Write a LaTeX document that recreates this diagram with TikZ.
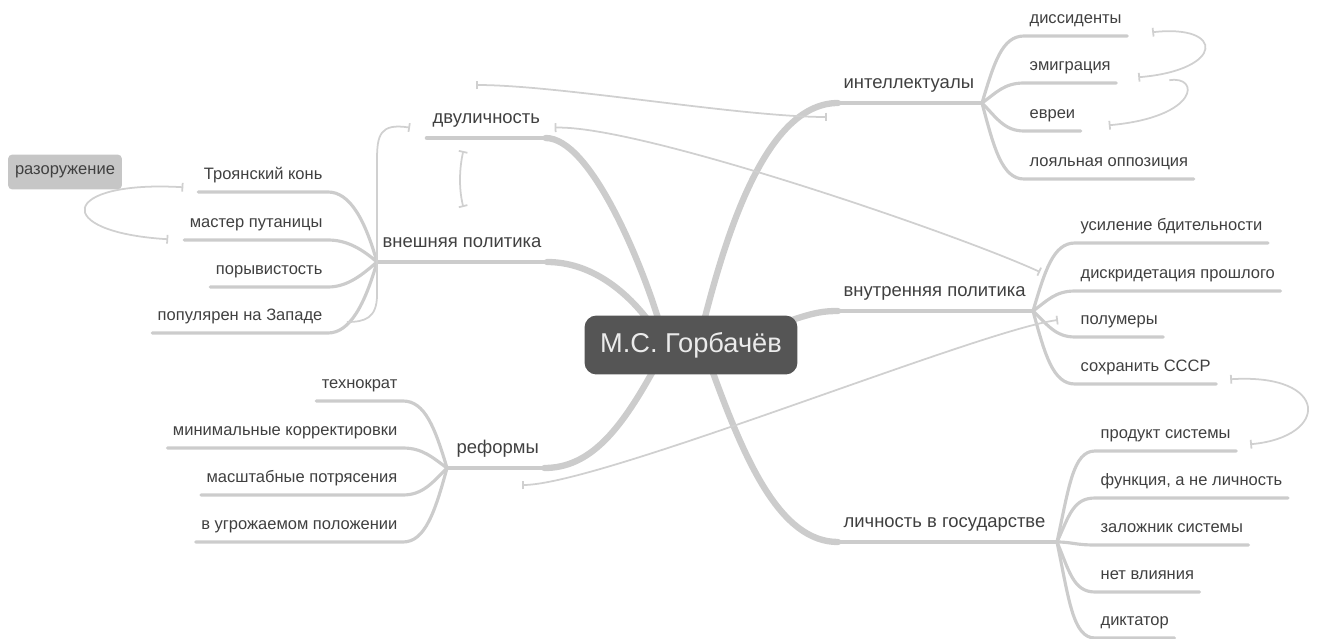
\documentclass[tikz,border=0pt]{standalone}
\usepackage{fontspec}
\setmainfont{Liberation Sans}
\usetikzlibrary{arrows.meta,calc,backgrounds}
\definecolor{brgray}{HTML}{CCCCCC}
\definecolor{relgray}{HTML}{D0D0D0}
\definecolor{txtgray}{HTML}{404040}
\definecolor{centrefill}{HTML}{555555}
\definecolor{floatfill}{HTML}{C6C6C6}
\tikzset{
  centre/.style={fill=centrefill, text=white!92!black, rounded corners=6.8pt,
    minimum width=4.26cm, minimum height=1.18cm, inner sep=0pt,
    font=\fontsize{15.5}{17}\selectfont},
  maintopic/.style={text=txtgray, inner xsep=3pt, inner ysep=0pt,
    text height=7pt, text depth=7.8pt, font=\fontsize{10.5}{12}\selectfont},
  subtopic/.style={text=txtgray, inner xsep=3pt, inner ysep=0pt,
    text height=7pt, text depth=7.1pt, font=\fontsize{9.4}{11}\selectfont},
  floattopic/.style={fill=floatfill, text=txtgray, rounded corners=2.5pt,
    minimum width=2.28cm, minimum height=0.7cm, inner sep=0pt,
    font=\fontsize{9.4}{11}\selectfont},
  trunk/.style={draw=brgray, line width=3.6pt, line cap=round},
  bough/.style={draw=brgray, line width=2.6pt, line cap=round},
  twig/.style={draw=brgray, line width=1.8pt, line cap=round},
  rel/.style={draw=relgray, line width=1pt},
  relboth/.style={rel, {Bar[width=5pt]}-{Bar[width=5pt]}},
  relend/.style={rel, -{Bar[width=5pt]}},
  relstart/.style={rel, {Bar[width=5pt]}-},
}
\begin{document}
\begin{tikzpicture}[x=0.02cm,y=-0.02cm]
\useasboundingbox (0,0) rectangle (1319,639);

\node[centre] (gorb) at (691,345) {М.С. Горбачёв};

\node[maintopic, anchor=south west] (dvul) at (427,138) {двуличность};
\node[maintopic, anchor=south west] (vnesh) at (377,262) {внешняя политика};
\node[maintopic, anchor=south west] (reform) at (451,468) {реформы};
\node[maintopic, anchor=south west] (intel) at (838,103) {интеллектуалы};
\node[maintopic, anchor=south west] (vnutr) at (838,311) {внутренняя политика};
\node[maintopic, anchor=south west] (lichn) at (838,542) {личность в государстве};

\coordinate (b-vnesh) at (377,262);
\coordinate (b-reform) at (447,468);
\coordinate (b-intel) at (982,103);
\coordinate (b-vnutr) at (1033,311);
\coordinate (b-lichn) at (1057,542);

\node[subtopic, anchor=south east] (troy) at (328,192) {Троянский конь};
\node[subtopic, anchor=south east] (master) at (328,240) {мастер путаницы};
\node[subtopic, anchor=south east] (poryv) at (328,287) {порывистость};
\node[subtopic, anchor=south east] (popul) at (328,333) {популярен на Западе};

\node[subtopic, anchor=south east] (tehno) at (403,401) {технократ};
\node[subtopic, anchor=south east] (minim) at (403,448) {минимальные корректировки};
\node[subtopic, anchor=south east] (masht) at (403,495) {масштабные потрясения};
\node[subtopic, anchor=south east] (ugroz) at (403,542) {в угрожаемом положении};

\node[subtopic, anchor=south west] (dissid) at (1024,36) {диссиденты};
\node[subtopic, anchor=south west] (emigr) at (1024,83) {эмиграция};
\node[subtopic, anchor=south west] (evrei) at (1024,131) {евреи};
\node[subtopic, anchor=south west] (loyal) at (1024,179) {лояльная оппозиция};

\node[subtopic, anchor=south west] (bditel) at (1075,243) {усиление бдительности};
\node[subtopic, anchor=south west] (diskr) at (1075,291) {дискридетация прошлого};
\node[subtopic, anchor=south west] (polum) at (1075,337) {полумеры};
\node[subtopic, anchor=south west] (sssr) at (1075,384) {сохранить СССР};

\node[subtopic, anchor=south west] (produkt) at (1095,451) {продукт системы};
\node[subtopic, anchor=south west] (funk) at (1095,498) {функция, а не личность};
\node[subtopic, anchor=south west] (zalozh) at (1095,545) {заложник системы};
\node[subtopic, anchor=south west] (vliyan) at (1095,592) {нет влияния};
\node[subtopic, anchor=south west] (diktat) at (1095,638) {диктатор};

\node[floattopic] (razor) at (65,172) {разоружение};

\begin{scope}[on background layer]
\draw[trunk] ($(gorb.north)+(-33,3)$) .. controls (640,260) and (590,138) .. (dvul.south east);
\draw[bough] (dvul.south west) -- (dvul.south east);
\draw[trunk] ($(gorb.north)+(-43,5)$) .. controls (625,290) and (590,262) .. (vnesh.south east);
\draw[bough] (b-vnesh) -- (vnesh.south east);
\draw[trunk] ($(gorb.south)+(-39,-2)$) .. controls (620,430) and (590,468) .. (reform.south east);
\draw[bough] (b-reform) -- (reform.south east);
\draw[trunk] ($(gorb.north)+(14,2)$) .. controls (730,220) and (770,103) .. (intel.south west);
\draw[bough] (intel.south west) -- (b-intel);
\draw[trunk] ($(gorb.north east)+(-9,6)$) .. controls (815,312) and (825,311) .. (vnutr.south west);
\draw[bough] (vnutr.south west) -- (b-vnutr);
\draw[trunk] ($(gorb.south)+(22,-2)$) .. controls (745,460) and (780,542) .. (lichn.south west);
\draw[bough] (lichn.south west) -- (b-lichn);
\end{scope}

\draw[twig] (b-vnesh) .. controls +(-12,-42) and +(22,0) .. (troy.south east) -- (troy.south west);
\draw[twig] (b-vnesh) .. controls +(-14,-12) and +(20,0) .. (master.south east) -- (master.south west);
\draw[twig] (b-vnesh) .. controls +(-14,12) and +(20,0) .. (poryv.south east) -- (poryv.south west);
\draw[twig] (b-vnesh) .. controls +(-12,42) and +(22,0) .. (popul.south east) -- (popul.south west);

\draw[twig] (b-reform) .. controls +(-12,-40) and +(22,0) .. (tehno.south east) -- (tehno.south west);
\draw[twig] (b-reform) .. controls +(-14,-10) and +(20,0) .. (minim.south east) -- (minim.south west);
\draw[twig] (b-reform) .. controls +(-14,14) and +(20,0) .. (masht.south east) -- (masht.south west);
\draw[twig] (b-reform) .. controls +(-12,44) and +(22,0) .. (ugroz.south east) -- (ugroz.south west);

\draw[twig] (b-intel) .. controls +(12,-40) and +(-22,0) .. (dissid.south west) -- (dissid.south east);
\draw[twig] (b-intel) .. controls +(14,-10) and +(-20,0) .. (emigr.south west) -- (emigr.south east);
\draw[twig] (b-intel) .. controls +(14,14) and +(-20,0) .. (evrei.south west) -- (evrei.south east);
\draw[twig] (b-intel) .. controls +(12,45) and +(-22,0) .. (loyal.south west) -- (loyal.south east);

\draw[twig] (b-vnutr) .. controls +(12,-40) and +(-22,0) .. (bditel.south west) -- (bditel.south east);
\draw[twig] (b-vnutr) .. controls +(14,-10) and +(-20,0) .. (diskr.south west) -- (diskr.south east);
\draw[twig] (b-vnutr) .. controls +(14,13) and +(-20,0) .. (polum.south west) -- (polum.south east);
\draw[twig] (b-vnutr) .. controls +(12,44) and +(-22,0) .. (sssr.south west) -- (sssr.south east);

\draw[twig] (b-lichn) .. controls +(12,-55) and +(-22,0) .. (produkt.south west) -- (produkt.south east);
\draw[twig] (b-lichn) .. controls +(12,-26) and +(-22,0) .. (funk.south west) -- (funk.south east);
\draw[twig] (b-lichn) .. controls +(15,0) and +(-20,0) .. (zalozh.south west) -- (zalozh.south east);
\draw[twig] (b-lichn) .. controls +(12,28) and +(-22,0) .. (vliyan.south west) -- (vliyan.south east);
\draw[twig] (b-lichn) .. controls +(12,58) and +(-22,0) .. (diktat.south west) -- (diktat.south east);

\coordinate (r-free) at (476,85);
\coordinate (r-intel) at (827,117);
\coordinate (r-vnutr) at (1040,272);
\coordinate (r-reform) at (522,485);
\coordinate (r-polum) at (1058,320);
\coordinate (r-popul) at (347,322);

\draw[relboth] (r-free) .. controls (560,85) and (740,117) .. (r-intel);
\draw[relboth] ($(dvul.east)+(9,3)$) .. controls (640,125) and (960,235) .. (r-vnutr);
\draw[relboth] (r-reform) .. controls (600,485) and (980,330) .. (r-polum);
\draw[relboth] ($(dvul.south)+(-23,13)$) .. controls (459,170) and (459,190) .. ($(dvul.south)+(-23,69)$);
\draw[relstart] ($(dvul.west)+(-17,3)$) .. controls (380,123) and (377,135) .. (377,160) -- (377,295) .. controls (377,318) and (365,322) .. (r-popul);
\draw[relboth] ($(troy.west)+(-15,8)$) .. controls (60,180) and (50,232) .. ($(master.west)+(-16,12)$);
\draw[relboth] ($(dissid.east)+(25,9)$) .. controls (1225,24) and (1225,70) .. ($(emigr.east)+(22,7)$);
\draw[relend] ($(emigr.east)+(53,10)$) .. controls (1200,75) and (1200,117) .. ($(evrei.east)+(28,7)$);
\draw[relboth] ($(sssr.east)+(14,8)$) .. controls (1330,373) and (1330,437) .. ($(produkt.east)+(14,6)$);
\end{tikzpicture}
\end{document}
